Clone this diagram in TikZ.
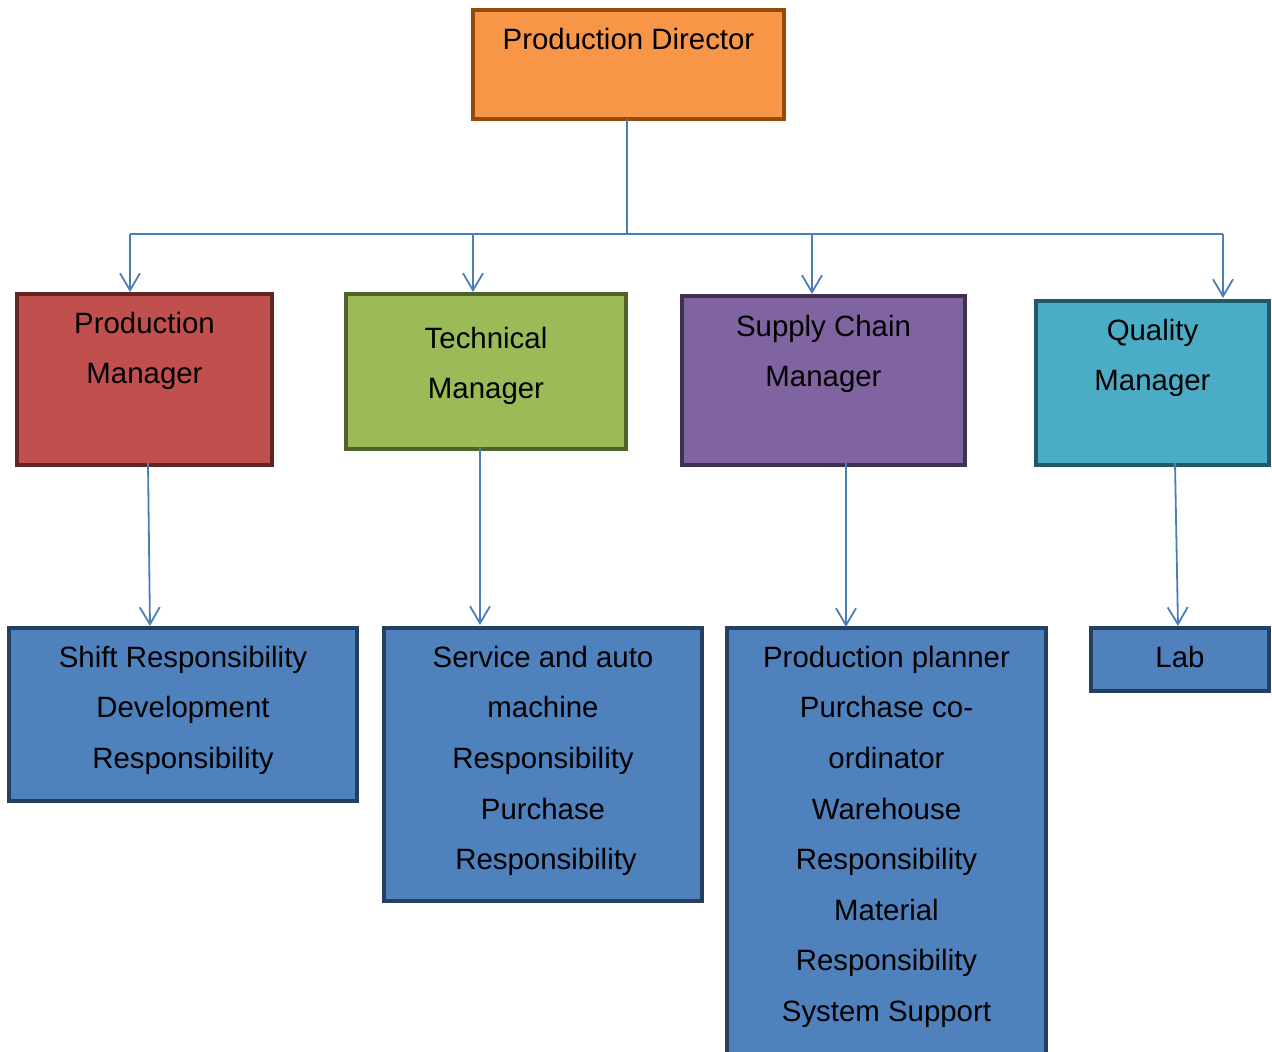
\documentclass[tikz,border=0pt]{standalone}
\usepackage{fontspec}
\setmainfont{Liberation Sans}
\usetikzlibrary{arrows.meta}
\definecolor{lnk}{HTML}{4A7EBB}
\definecolor{dirF}{HTML}{F79646}\definecolor{dirD}{HTML}{984807}
\definecolor{pmF}{HTML}{C0504D}\definecolor{pmD}{HTML}{632523}
\definecolor{tmF}{HTML}{9BBB59}\definecolor{tmD}{HTML}{4F6228}
\definecolor{scF}{HTML}{8064A2}\definecolor{scD}{HTML}{3F3151}
\definecolor{qmF}{HTML}{4BACC6}\definecolor{qmD}{HTML}{215968}
\definecolor{chF}{HTML}{4F81BD}\definecolor{chD}{HTML}{243F60}
\newcommand{\fs}{\rule{0pt}{25pt}}
\begin{document}
\begin{tikzpicture}[x=1pt,y=-1pt,
  box/.style={draw, line width=4.5pt, rectangle, inner sep=0pt, outer sep=0pt},
  txt/.style={anchor=north, inner sep=0pt, align=center, font=\fontsize{29.4}{50.6}\selectfont, text=black},
  arr/.style={draw=lnk, line width=1.8pt, -{Straight Barb[length=17pt,width=20pt,line width=1.8pt]}},
  lin/.style={draw=lnk, line width=1.8pt}]
\useasboundingbox (0,0) rectangle (1272,1052);
\node[box, draw=dirD, fill=dirF, minimum width=311pt, minimum height=109pt,
  label={[txt, yshift=-14pt]north:{\fs Production Director}}] (dir) at (628.5,64.5) {};
\node[box, draw=pmD, fill=pmF, minimum width=255pt, minimum height=171pt,
  label={[txt, yshift=-14pt]north:{\fs Production\\Manager}}] (pm) at (144.5,379.5) {};
\node[box, draw=tmD, fill=tmF, minimum width=280pt, minimum height=155pt,
  label={[txt, yshift=-29pt]north:{\fs Technical\\Manager}}] (tm) at (486,371.5) {};
\node[box, draw=scD, fill=scF, minimum width=283pt, minimum height=169pt,
  label={[txt, yshift=-15pt]north:{\fs Supply Chain\\Manager}}] (sc) at (823.5,380.5) {};
\node[box, draw=qmD, fill=qmF, minimum width=233pt, minimum height=164pt,
  label={[txt, yshift=-14pt]north:{\fs Quality\\Manager}}] (qm) at (1152.5,383) {};
\node[box, draw=chD, fill=chF, minimum width=348pt, minimum height=173pt,
  label={[txt, yshift=-14pt]north:{\fs Shift Responsibility\\Development\\Responsibility}}] (shift) at (183,714.5) {};
\node[box, draw=chD, fill=chF, minimum width=318pt, minimum height=273pt,
  label={[txt, yshift=-14pt]north:{\fs Service and auto\\machine\\Responsibility\\Purchase\\\hspace*{6pt}Responsibility}}] (svc) at (543,764.5) {};
\node[box, draw=chD, fill=chF, minimum width=319pt, minimum height=428pt,
  label={[txt, yshift=-14pt]north:{\fs Production planner\\Purchase co-\\ordinator\\Warehouse\\Responsibility\\Material\\Responsibility\\System Support}}] (pp) at (886.5,842) {};
\node[box, draw=chD, fill=chF, minimum width=178pt, minimum height=63pt,
  label={[txt, yshift=-14pt]north:{\fs Lab}}] (lab) at (1180,659.5) {};
% tree
\coordinate (bus) at (627,234);
\coordinate (b1) at (130,234);
\coordinate (b4) at (1223,234);
\coordinate (b2) at (473,234);
\coordinate (b3) at (812,234);
\draw[lin] ([xshift=-1.5pt]dir.south) -- ([xshift=-1.5pt]dir.south |- bus);
\draw[lin] (b1) -- (b4);
\draw[arr] (b1) -- ([yshift=2pt]b1 |- pm.north);
\draw[arr] (b2) -- ([yshift=2pt]b2 |- tm.north);
\draw[arr] (b3) -- ([yshift=2pt]b3 |- sc.north);
\draw[arr] (b4) -- ([yshift=3pt]b4 |- qm.north);
% lower links
\draw[arr] ([xshift=3.5pt,yshift=2pt]pm.south) -- ([xshift=-33pt,yshift=2pt]shift.north);
\draw[arr] ([xshift=-6pt,yshift=2pt]tm.south) -- ([xshift=-63pt,yshift=3pt]svc.north);
\draw[arr] ([xshift=22.5pt,yshift=2pt]sc.south) -- ([xshift=-40.5pt,yshift=1pt]pp.north);
\draw[arr] ([xshift=22.5pt,yshift=2pt]qm.south) -- ([xshift=-2pt,yshift=2pt]lab.north);
\end{tikzpicture}
\end{document}
